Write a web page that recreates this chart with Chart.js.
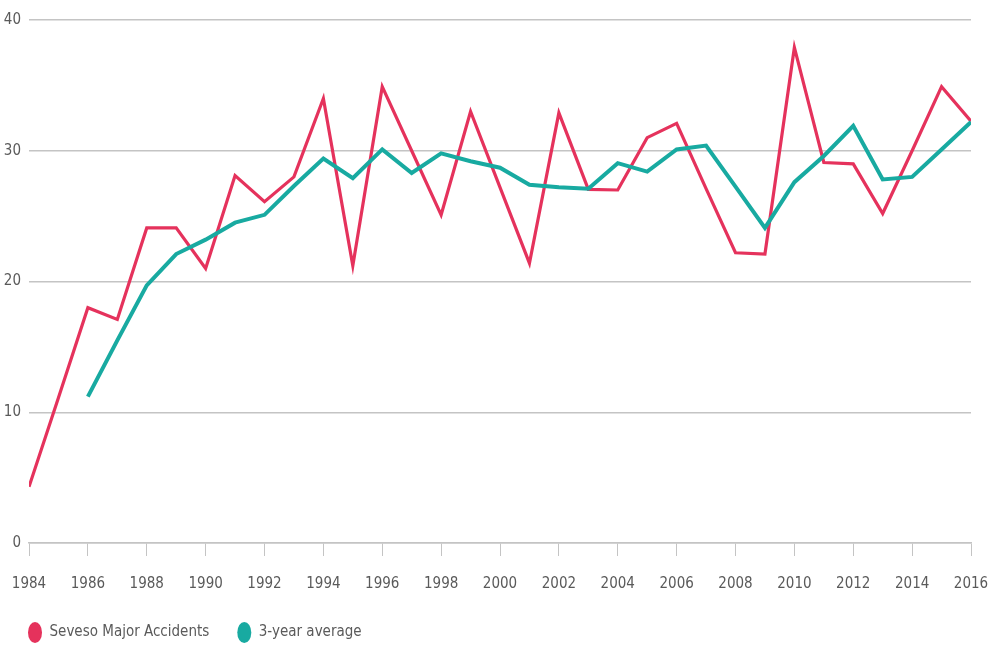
<!DOCTYPE html>
<html>
<head>
<meta charset="utf-8">
<script src="https://cdn.jsdelivr.net/npm/chart.js@4"></script>
<style>
  html, body { margin: 0; padding: 0; background: #fff; }
  #wrap { width: 991px; height: 657px; position: relative; }
</style>
</head>
<body>
<div id="wrap"><canvas id="c" width="991" height="657"></canvas></div>
<script>
const years = [1984,1985,1986,1987,1988,1989,1990,1991,1992,1993,1994,1995,1996,1997,1998,1999,2000,2001,2002,2003,2004,2005,2006,2007,2008,2009,2010,2011,2012,2013,2014,2015,2016];
const majorAccidents = [4.3,11.1,18.0,17.1,24.1,24.1,21.0,28.1,26.1,28.0,34.0,21.2,34.9,30.0,25.1,33.0,27.2,21.4,32.9,27.05,27.0,31.0,32.1,27.1,22.2,22.1,37.9,29.1,29.0,25.2,30.0,34.9,32.25];
const threeYearAvg = [null,null,11.2,15.5,19.7,22.1,23.2,24.5,25.1,27.3,29.4,27.9,30.1,28.3,29.8,29.2,28.7,27.4,27.2,27.1,29.05,28.4,30.1,30.4,27.25,24.1,27.6,29.6,31.9,27.8,28.0,30.1,32.2];
const seriesNames = ["Seveso Major Accidents", "3-year average"];
const yTicks = [0,10,20,30,40];

const RED = "#e5325c";
const TEAL = "#18aaa1";
const FONT = "'Liberation Sans Narrow', 'DejaVu Sans Condensed', sans-serif";
const TXT = "#5a5a5a";
const GRID = "#c4c4c4";
const FS = 15;

const toPts = arr => years.map((x, i) => ({ x: x, y: arr[i] }));

new Chart(document.getElementById('c'), {
  type: 'line',
  data: {
    datasets: [
      { label: seriesNames[0], data: toPts(majorAccidents), borderColor: RED, backgroundColor: RED,
        borderWidth: 3.2, pointRadius: 0, tension: 0, order: 2 },
      { label: seriesNames[1], data: toPts(threeYearAvg), borderColor: TEAL, backgroundColor: TEAL,
        borderWidth: 4, pointRadius: 0, tension: 0, order: 1 }
    ]
  },
  options: {
    responsive: false,
    animation: false,
    layout: { padding: { top: 20, right: 20, bottom: 7, left: 0 } },
    plugins: {
      tooltip: { enabled: false },
      legend: {
        position: 'bottom',
        align: 'start',
        labels: {
          usePointStyle: true,
          pointStyle: 'circle',
          pointStyleWidth: 14,
          boxHeight: 16,
          padding: 28,
          color: TXT,
          font: { family: FONT, size: FS },
          sort: (a, b) => a.datasetIndex - b.datasetIndex,
          generateLabels: (chart) => Chart.defaults.plugins.legend.labels.generateLabels(chart).map(l => Object.assign(l, { lineWidth: 0 }))
        }
      }
    },
    scales: {
      x: {
        type: 'linear',
        min: years[0],
        max: years[years.length - 1],
        afterFit: s => { s.height = 54; s.paddingLeft = 0; s.paddingRight = 0; },
        ticks: { stepSize: 2, padding: 19, color: TXT, font: { family: FONT, size: FS },
                 callback: v => String(v), maxRotation: 0, autoSkip: false },
        grid: { display: true, drawOnChartArea: false, drawTicks: true, tickLength: 13, color: GRID, lineWidth: 1 },
        border: { display: true, color: GRID, width: 1.5 }
      },
      y: {
        min: 0,
        max: 40,
        afterFit: s => { s.width = 29; s.paddingTop = 0; s.paddingBottom = 0; },
        afterBuildTicks: s => { s.ticks = yTicks.map(v => ({ value: v })); },
        ticks: { padding: 8, color: TXT, font: { family: FONT, size: FS } },
        grid: { color: GRID, lineWidth: 1.5, drawTicks: false },
        border: { display: false }
      }
    }
  }
});
</script>
</body>
</html>
